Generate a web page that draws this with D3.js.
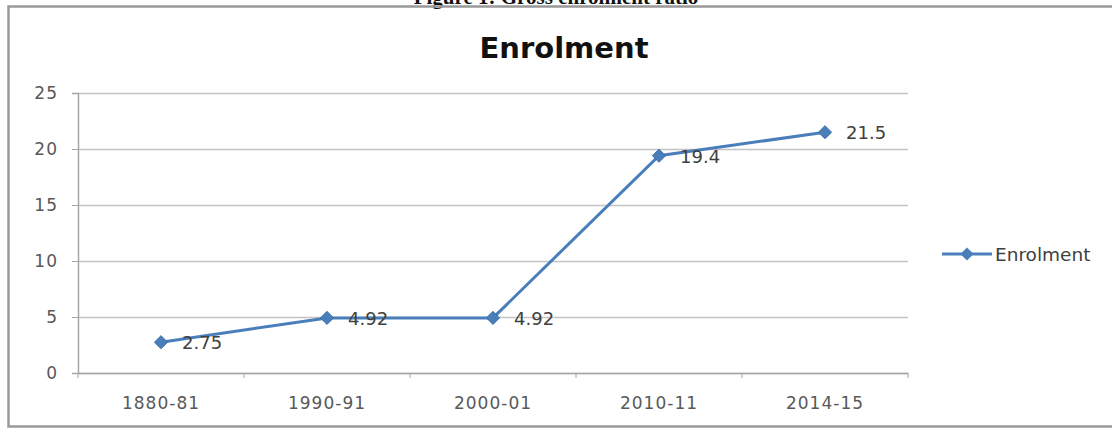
<!DOCTYPE html>
<html>
<head>
<meta charset="utf-8">
<script src="https://cdn.jsdelivr.net/npm/d3@7"></script>
<style>
  body { margin: 0; background: #fff; }
</style>
</head>
<body>
<div id="chart"></div>
<script>
// chart data
const categories = ["1880-81", "1990-91", "2000-01", "2010-11", "2014-15"];
const enrolment = [2.75, 4.92, 4.92, 19.4, 21.5];
const yTicks = [0, 5, 10, 15, 20, 25];
const seriesName = "Enrolment";

const width = 1112;
const height = 431;
const marginTop = 93;
const marginBottom = 58;
const marginLeft = 78;
const marginRight = 204;

const data = categories.map((c, i) => ({cat: c, value: enrolment[i]}));

const svg = d3.select("#chart").append("svg")
    .attr("width", width)
    .attr("height", height)
    .style("font-family", "'DejaVu Sans', sans-serif");

// figure caption (only its lower part shows, as in the source)
svg.append("text")
    .attr("x", 556)
    .attr("y", 4)
    .attr("text-anchor", "middle")
    .style("font-family", "'Liberation Serif', 'Times New Roman', serif")
    .style("font-weight", "bold")
    .style("font-size", "21px")
    .attr("fill", "#111")
    .text("Figure 1: Gross enrolment ratio");

// chart frame
svg.append("rect")
    .attr("x", 8.5)
    .attr("y", 6.5)
    .attr("width", 1120)
    .attr("height", 420)
    .attr("fill", "none")
    .attr("stroke", "#999")
    .attr("stroke-width", 2.5);

const x = d3.scaleBand()
    .domain(categories)
    .range([marginLeft, width - marginRight]);

const y = d3.scaleLinear()
    .domain([0, 25])
    .range([height - marginBottom, marginTop]);

// title
svg.append("text")
    .attr("x", 564)
    .attr("y", 58)
    .attr("text-anchor", "middle")
    .style("font-weight", "bold")
    .style("font-size", "29px")
    .attr("fill", "#111")
    .text("Enrolment");

// gridlines
svg.append("g")
    .selectAll("line")
    .data(yTicks)
    .join("line")
      .attr("x1", marginLeft)
      .attr("x2", width - marginRight)
      .attr("y1", d => Math.round(y(d)) + 0.5)
      .attr("y2", d => Math.round(y(d)) + 0.5)
      .attr("stroke", "#c4c4c4")
      .attr("stroke-width", 1.5);

// y axis
const yAxis = svg.append("g")
    .attr("transform", `translate(${marginLeft},0)`)
    .call(d3.axisLeft(y).tickValues(yTicks).tickSize(6).tickPadding(14));
yAxis.select(".domain").attr("stroke", "#a6a6a6").attr("stroke-width", 1.5);
yAxis.selectAll(".tick line").attr("stroke", "#a6a6a6");
yAxis.selectAll(".tick text")
    .style("font-size", "17px")
    .style("font-family", "'DejaVu Sans', sans-serif")
    .style("letter-spacing", "1px")
    .attr("fill", "#595959");

// x axis
const xAxis = svg.append("g")
    .attr("transform", `translate(0,${height - marginBottom})`)
    .call(d3.axisBottom(x).tickSize(0).tickPadding(24));
xAxis.select(".domain").attr("stroke", "#a6a6a6").attr("stroke-width", 1.5);
xAxis.selectAll(".tick text")
    .style("font-size", "17px")
    .style("font-family", "'DejaVu Sans', sans-serif")
    .style("letter-spacing", "1px")
    .attr("fill", "#595959");
// tick marks between categories
svg.append("g")
    .selectAll("line")
    .data(d3.range(categories.length + 1))
    .join("line")
      .attr("x1", i => marginLeft + i * x.bandwidth())
      .attr("x2", i => marginLeft + i * x.bandwidth())
      .attr("y1", y(0))
      .attr("y2", y(0) + 5)
      .attr("stroke", "#a6a6a6");

const cx = d => x(d.cat) + x.bandwidth() / 2;

const line = d3.line()
    .x(cx)
    .y(d => y(d.value));

svg.append("path")
    .datum(data)
    .attr("fill", "none")
    .attr("stroke", "#4a7ebb")
    .attr("stroke-width", 3)
    .attr("d", line);

const diamond = d3.symbol().type(d3.symbolDiamond2).size(110);

svg.append("g")
    .selectAll("path")
    .data(data)
    .join("path")
      .attr("transform", d => `translate(${cx(d)},${y(d.value)})`)
      .attr("d", diamond)
      .attr("fill", "#4a7ebb")
      .attr("stroke", "#3d6da8");

// data labels
svg.append("g")
    .selectAll("text")
    .data(data)
    .join("text")
      .attr("x", d => cx(d) + 21)
      .attr("y", d => y(d.value) + 7)
      .style("font-size", "18px")
      .attr("fill", "#404040")
      .text(d => d.value);

// legend
const legend = svg.append("g").attr("transform", "translate(942,254)");
legend.append("line")
    .attr("x1", 0).attr("x2", 50)
    .attr("stroke", "#4a7ebb")
    .attr("stroke-width", 3);
legend.append("path")
    .attr("transform", "translate(25,0)")
    .attr("d", diamond)
    .attr("fill", "#4a7ebb");
legend.append("text")
    .attr("x", 53)
    .attr("y", 6.5)
    .style("font-size", "18.5px")
    .attr("fill", "#404040")
    .text(seriesName);
</script>
</body>
</html>
